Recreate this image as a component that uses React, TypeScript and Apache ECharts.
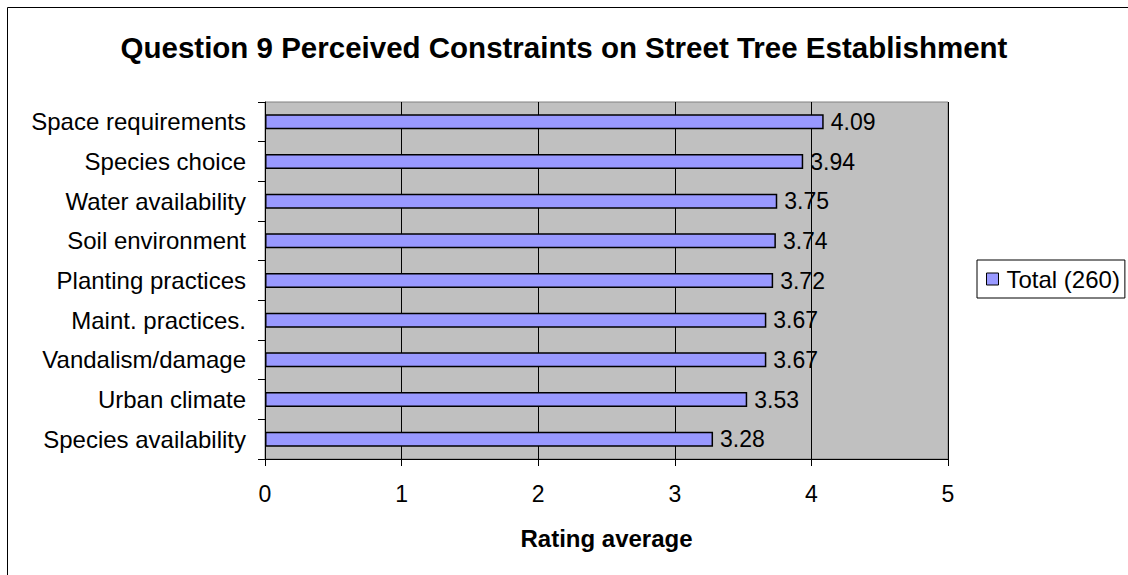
import React, { useEffect, useRef } from "react";
import * as echarts from "echarts";

const categories = [
  "Space requirements",
  "Species choice",
  "Water availability",
  "Soil environment",
  "Planting practices",
  "Maint. practices.",
  "Vandalism/damage",
  "Urban climate",
  "Species availability",
];
const values = [4.09, 3.94, 3.75, 3.74, 3.72, 3.67, 3.67, 3.53, 3.28];
const xTicks = [0, 1, 2, 3, 4, 5];
const seriesName = "Total (260)";
const titleText = "Question 9 Perceived Constraints on Street Tree Establishment";
const xAxisName = "Rating average";

const FONT = "'Liberation Sans', Arial, sans-serif";

export default function App() {
  const ref = useRef<HTMLDivElement>(null);
  useEffect(() => {
    const chart = echarts.init(ref.current!, null, { renderer: "svg" });
    chart.setOption({
      animation: false,
      textStyle: { fontFamily: FONT, color: "#000" },
      title: {
        text: titleText,
        left: "center",
        top: 27,
        textStyle: { fontSize: 29.5, fontWeight: "bold", color: "#000", fontFamily: FONT },
      },
      graphic: [
        {
          type: "rect",
          shape: { x: 7.5, y: 7.5, width: 1300, height: 700 },
          style: { fill: "none", stroke: "#000", lineWidth: 1 },
          silent: true,
          z: -10,
        },
      ],
      legend: {
        left: 977,
        top: 260,
        orient: "vertical",
        padding: [7, 5, 7, 9],
        borderColor: "#000",
        borderWidth: 1,
        backgroundColor: "#fff",
        itemWidth: 12,
        itemHeight: 12,
        itemGap: 0,
        icon: "rect",
        data: [{ name: seriesName, itemStyle: { color: "#9999FF", borderColor: "#000", borderWidth: 1 } }],
        textStyle: { fontSize: 24, color: "#000", fontFamily: FONT, lineHeight: 24, padding: [0, 0, 0, 3] },
      },
      grid: {
        left: 265,
        right: 180,
        top: 102,
        bottom: 116,
        show: true,
        backgroundColor: "#C0C0C0",
        borderColor: "#808080",
        borderWidth: 1,
      },
      xAxis: {
        type: "value",
        min: 0,
        max: 5,
        interval: 1,
        axisLine: { show: true, lineStyle: { color: "#000", width: 1 } },
        axisTick: { show: true, length: 7, lineStyle: { color: "#000" } },
        axisLabel: {
          fontSize: 23,
          color: "#000",
          fontFamily: FONT,
          margin: 23,
          formatter: (v: number) => (xTicks.includes(v) ? String(v) : ""),
        },
        splitLine: { show: true, lineStyle: { color: "#000", width: 1 } },
        name: xAxisName,
        nameLocation: "middle",
        nameGap: 67,
        nameTextStyle: { fontSize: 24, fontWeight: "bold", color: "#000", fontFamily: FONT },
      },
      yAxis: {
        type: "category",
        data: categories,
        inverse: true,
        axisLine: { show: true, lineStyle: { color: "#000", width: 1 } },
        axisTick: { show: true, length: 7, lineStyle: { color: "#000" } },
        axisLabel: { fontSize: 24, color: "#000", fontFamily: FONT, margin: 19 },
        splitLine: { show: false },
      },
      series: [
        {
          name: seriesName,
          type: "bar",
          data: values,
          barWidth: 15,
          itemStyle: { color: "#9999FF", borderColor: "#000", borderWidth: 1.5 },
          label: {
            show: true,
            position: "right",
            distance: 7,
            fontSize: 23,
            color: "#000",
            fontFamily: FONT,
            formatter: (p: any) => p.value.toFixed(2),
          },
        },
      ],
    });
    return () => chart.dispose();
  }, []);
  return (
    <div
      ref={ref}
      style={{ position: "absolute", left: 0, top: 0, width: 1128, height: 575, background: "#fff" }}
    />
  );
}
